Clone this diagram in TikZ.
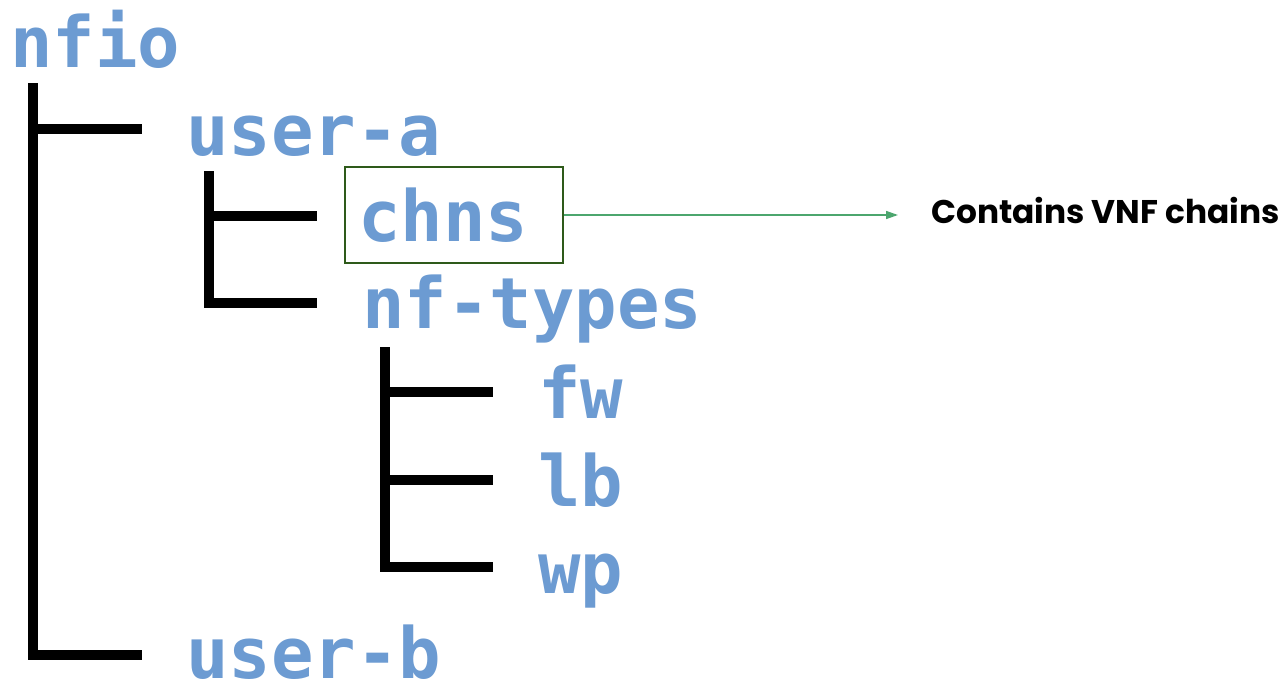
\documentclass[tikz,border=0pt]{standalone}
\usepackage{fontspec}
\usetikzlibrary{arrows.meta}
\newfontfamily\treefont{DejaVu Sans Mono}
\newfontfamily\notefont{Poppins}
\definecolor{treeblue}{RGB}{108,155,210}
\definecolor{boxgreen}{RGB}{46,90,26}
\definecolor{arrowgreen}{RGB}{76,166,110}
\tikzset{
  dirname/.style={anchor=base west, inner sep=0pt, text=treeblue,
    font=\treefont\bfseries\fontsize{70.6}{70.6}\selectfont},
  tree/.style={line width=10pt, black, line join=miter, line cap=butt},
  hilite/.style={draw=boxgreen, line width=1.5pt, inner sep=0pt},
  note/.style={anchor=base west, inner sep=0pt, text=black,
    font=\notefont\bfseries\fontsize{32.8}{32.8}\selectfont},
  pointer/.style={draw=arrowgreen, line width=1.5pt, -{Triangle[length=12pt,width=8pt]}}
}
\begin{document}
\begin{tikzpicture}[x=1pt,y=-1pt]
\useasboundingbox[fill=white] (0,0) rectangle (1288,686);
% directory names
\node[dirname] (nfio)  at (10,67)   {nfio};
\node[dirname] (usera) at (186,155) {user-a};
\node[dirname] (chns)  at (358,241) {chns};
\node[dirname] (nft)   at (362,328) {nf-types};
\node[dirname] (fw)    at (538,418) {fw};
\node[dirname] (lb)    at (538,506) {lb};
\node[dirname] (wp)    at (538,593) {wp};
\node[dirname] (userb) at (186,678) {user-b};
% tree coordinates
\coordinate (r0) at (33,83);
\coordinate (ra) at (142,129);
\coordinate (rb) at (142,655);
\coordinate (s0) at (209,171);
\coordinate (sa) at (317,216);
\coordinate (sb) at (317,303);
\coordinate (t0) at (385,347);
\coordinate (ta) at (493,392);
\coordinate (tb) at (493,480);
\coordinate (tc) at (493,567);
% tree lines
\draw[tree] (r0) |- (rb);
\draw[tree] ([xshift=-5pt]r0 |- ra) -- (ra);
\draw[tree] (s0) |- (sb);
\draw[tree] ([xshift=-5pt]s0 |- sa) -- (sa);
\draw[tree] (t0) |- (tc);
\draw[tree] ([xshift=-5pt]t0 |- ta) -- (ta);
\draw[tree] ([xshift=-5pt]t0 |- tb) -- (tb);
% highlight box and note
\node[hilite, minimum width=218pt, minimum height=96pt] (box) at (454,215) {};
\node[note] (note) at (931,223) {Contains VNF chains};
\coordinate (tip) at (898,215);
\draw[pointer] (box.east) -- (tip);
\end{tikzpicture}
\end{document}
